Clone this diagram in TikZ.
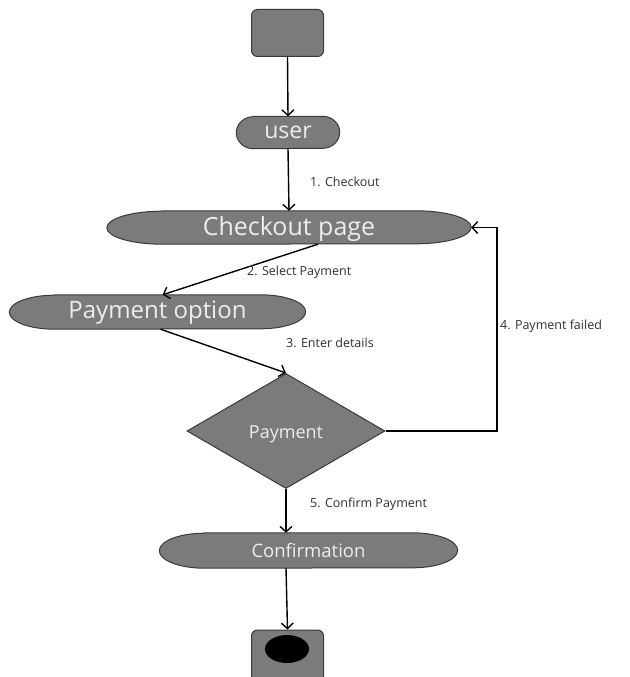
\documentclass[tikz,border=0pt]{standalone}
\usepackage{fontspec}
\setmainfont{Open Sans}
\usetikzlibrary{shapes.geometric,arrows.meta,backgrounds}

\definecolor{boxfill}{HTML}{7B7B7B}
\definecolor{boxline}{HTML}{3A3A3A}
\definecolor{boxtext}{HTML}{EDEDED}
\definecolor{labeltext}{HTML}{303030}

% Flat-topped oval with half-ellipse ends, drawn behind a named node.
% #1 node name, #2 length of the curved ends, #3 half height
\newcommand{\ovalbehind}[3]{%
  \begin{scope}[on background layer]
    \path[ovalpath] ([xshift=#2]#1.north west) -- ([xshift=-#2]#1.north east)
      arc[start angle=90,end angle=-90,x radius=#2,y radius=#3]
      -- ([xshift=#2]#1.south west)
      arc[start angle=270,end angle=90,x radius=#2,y radius=#3] -- cycle;
  \end{scope}}

\tikzset{
  x=1pt, y=1pt,
  ovalpath/.style={fill=boxfill, draw=boxline, line width=1pt},
  statebox/.style={inner sep=0pt, text=boxtext, font=\fontsize{#1}{#1}\selectfont,
    text depth=0pt},
  termbox/.style={fill=boxfill, draw=boxline, line width=1pt, rounded corners=6pt,
    inner sep=0pt},
  decision/.style={diamond, fill=boxfill, draw=boxline, line width=1pt, inner sep=0pt,
    text=boxtext, font=\fontsize{18}{18}\selectfont, text height=15pt, text depth=0pt},
  flow/.style={draw=black, line width=1.4pt,
    -{Straight Barb[length=5.5pt,width=12pt,line width=1.4pt]}},
  steplabel/.style={anchor=west, inner sep=0pt, text=labeltext,
    font=\fontsize{12.5}{12.5}\selectfont},
}

\begin{document}
\begin{tikzpicture}
\useasboundingbox (0,0) rectangle (629,-677);
\clip (0,0) rectangle (629,-677);

% start terminal
\node[termbox, minimum width=72pt, minimum height=47pt] (start) at (287.5,-33) {};

% activity nodes
\node[statebox=23, text height=12pt, minimum width=103pt, minimum height=32pt] (user) at (288,-132.5) {user};
\ovalbehind{user}{17pt}{16pt}

\node[statebox=25, text height=15pt, minimum width=364pt, minimum height=33pt] (cp) at (289,-227.5) {Checkout page};
\ovalbehind{cp}{55pt}{16.5pt}

\node[statebox=24, text height=13pt, minimum width=296pt, minimum height=34pt] (po) at (157.5,-312) {Payment option};
\ovalbehind{po}{45pt}{17pt}

\node[decision, minimum width=198pt, minimum height=115pt] (dia) at (286,-431) {Payment};

\node[statebox=18.5, text height=13pt, minimum width=298pt, minimum height=35pt] (conf) at (308.5,-550.5) {Confirmation};
\ovalbehind{conf}{45pt}{17.5pt}

% end terminal
\node[termbox, minimum width=72pt, minimum height=62pt] (stop) at (287.5,-661) {};
\fill[black] (287,-649) ellipse[x radius=22pt, y radius=14pt];

% loop-back corner
\coordinate (back) at (497,-431);

% connectors
\draw[flow] (start.south) -- (user.north);
\draw[flow] (user.south) -- (cp.north);
\draw[flow] ([xshift=29pt]cp.south) -- ([xshift=5pt]po.north);
\draw[flow] ([xshift=3pt]po.south) -- (dia.north);
\draw[flow] (dia.east) -- (back) |- (cp.east);
\draw[flow] (dia.south) -- (dia.south |- conf.north);
\draw[flow] (dia.south |- conf.south) -- (stop.north);

% step labels
\node[steplabel] (l1) at (310,-182) {1. Checkout};
\node[steplabel] (l2) at (247,-272) {2. Select Payment};
\node[steplabel] (l3) at (286,-343) {3. Enter details};
\node[steplabel] (l4) at (500,-326) {4. Payment failed};
\node[steplabel] (l5) at (310,-504) {5. Confirm Payment};
\end{tikzpicture}
\end{document}
